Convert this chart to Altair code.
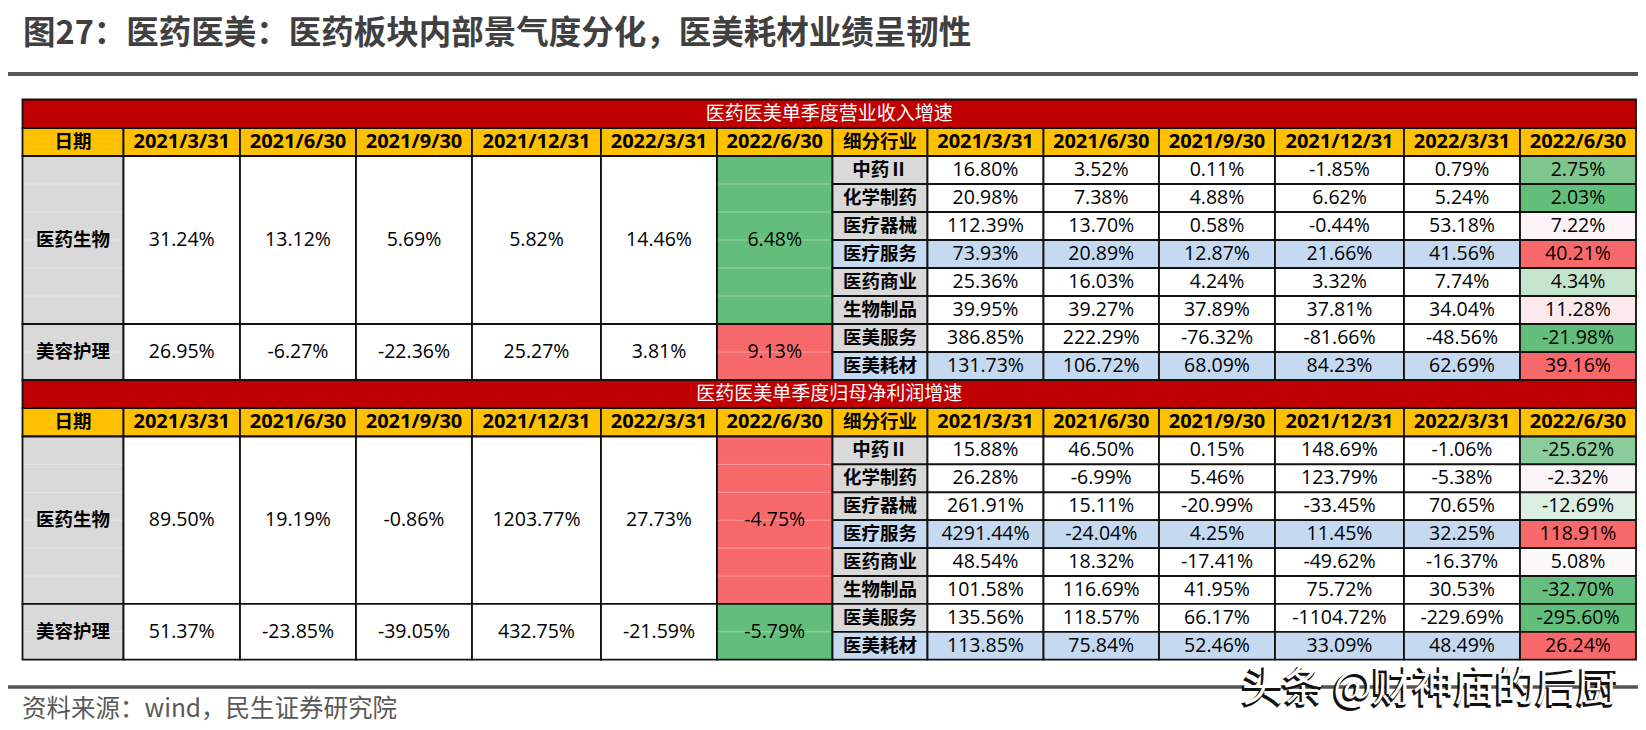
import altair as alt
import pandas as pd

# ---------------- data ----------------
dates = ["2021/3/31", "2021/6/30", "2021/9/30", "2021/12/31", "2022/3/31", "2022/6/30"]
sectors = ["医药生物", "美容护理"]
sub_industries = ["中药Ⅱ", "化学制药", "医疗器械", "医疗服务", "医药商业", "生物制品", "医美服务", "医美耗材"]
table_titles = ["医药医美单季度营业收入增速", "医药医美单季度归母净利润增速"]

rev_sector = [
    [31.24, 13.12, 5.69, 5.82, 14.46, 6.48],
    [26.95, -6.27, -22.36, 25.27, 3.81, 9.13],
]
rev_sub = [
    [16.80, 3.52, 0.11, -1.85, 0.79, 2.75],
    [20.98, 7.38, 4.88, 6.62, 5.24, 2.03],
    [112.39, 13.70, 0.58, -0.44, 53.18, 7.22],
    [73.93, 20.89, 12.87, 21.66, 41.56, 40.21],
    [25.36, 16.03, 4.24, 3.32, 7.74, 4.34],
    [39.95, 39.27, 37.89, 37.81, 34.04, 11.28],
    [386.85, 222.29, -76.32, -81.66, -48.56, -21.98],
    [131.73, 106.72, 68.09, 84.23, 62.69, 39.16],
]
profit_sector = [
    [89.50, 19.19, -0.86, 1203.77, 27.73, -4.75],
    [51.37, -23.85, -39.05, 432.75, -21.59, -5.79],
]
profit_sub = [
    [15.88, 46.50, 0.15, 148.69, -1.06, -25.62],
    [26.28, -6.99, 5.46, 123.79, -5.38, -2.32],
    [261.91, 15.11, -20.99, -33.45, 70.65, -12.69],
    [4291.44, -24.04, 4.25, 11.45, 32.25, 118.91],
    [48.54, 18.32, -17.41, -49.62, -16.37, 5.08],
    [101.58, 116.69, 41.95, 75.72, 30.53, -32.70],
    [135.56, 118.57, 66.17, -1104.72, -229.69, -295.60],
    [113.85, 75.84, 52.46, 33.09, 48.49, 26.24],
]
title_text = "图27：医药医美：医药板块内部景气度分化，医美耗材业绩呈韧性"
source_text = "资料来源：wind，民生证券研究院"
watermark_text = "头条 @财神庙的后厨"

# ---------------- styles ----------------
RED, YELLOW, GRAY, BLUE = "#C00000", "#FFC000", "#D9D9D9", "#C5D9F1"
GREEN, PINK, WHITE = "#63BE7B", "#F8696B", "#FFFFFF"
sector_last_fill = [[GREEN, PINK], [PINK, GREEN]]
sub_last_fill = [
    ["#7EC68E", "#63BE7B", "#FBF3F6", "#F8696B", "#C4E5CC", "#FCE9EC", "#63BE7B", "#F8696B"],
    ["#8ACD9A", "#FBF4F7", "#DCEFE2", "#F8696B", "#FCF9FB", "#66BF7E", "#63BE7B", "#F8696B"],
]
blue_rows = {3, 7}
sector_spans = [(0, 6), (6, 8)]

# ---------------- layout ----------------
COL_W = [101, 116.5, 116, 116, 129, 116, 115.5, 95, 116, 115.5, 116, 129, 116, 116]
ROW_H = [28.5, 28] + [28] * 8 + [28, 28.5] + [27.9] * 8
X_LEFT, Y_TOP = 22.5, 99.5
xe = [X_LEFT]
for w in COL_W:
    xe.append(xe[-1] + w)
ye = [Y_TOP]
for h in ROW_H:
    ye.append(ye[-1] + h)

rects, faint = [], []
t_hdr, t_date, t_label, t_value = [], [], [], []


def cell(c0, c1, r0, r1, fill):
    rects.append(dict(x0=xe[c0], x1=xe[c1], y0=ye[r0], y1=ye[r1], fill=fill))
    return (xe[c0] + xe[c1]) / 2, (ye[r0] + ye[r1]) / 2


tables = [(rev_sector, rev_sub), (profit_sector, profit_sub)]
for t, (sec_vals, sub_vals) in enumerate(tables):
    base = t * 10
    cx, cy = cell(0, 14, base, base + 1, RED)
    t_hdr.append(dict(x=cx, y=cy, text=table_titles[t]))
    for c in range(14):
        cx, cy = cell(c, c + 1, base + 1, base + 2, YELLOW)
        if c == 0:
            t_label.append(dict(x=cx, y=cy, text="日期"))
        elif c == 7:
            t_label.append(dict(x=cx, y=cy, text="细分行业"))
        else:
            t_date.append(dict(x=cx, y=cy, text=dates[c - 1 if c < 7 else c - 8]))
    for s, (a, b) in enumerate(sector_spans):
        r0, r1 = base + 2 + a, base + 2 + b
        cx, cy = cell(0, 1, r0, r1, GRAY)
        t_label.append(dict(x=cx, y=cy, text=sectors[s]))
        for j in range(6):
            fill = sector_last_fill[t][s] if j == 5 else WHITE
            cx, cy = cell(1 + j, 2 + j, r0, r1, fill)
            t_value.append(dict(x=cx, y=cy, text=f"{sec_vals[s][j]:.2f}%"))
        for r in range(r0 + 1, r1):
            for c in range(0, 7):
                faint.append(dict(x0=xe[c] + 1.2, x1=xe[c + 1] - 1.2, y=ye[r]))
    for i in range(8):
        r = base + 2 + i
        rowfill = BLUE if i in blue_rows else WHITE
        cx, cy = cell(7, 8, r, r + 1, BLUE if i in blue_rows else GRAY)
        t_label.append(dict(x=cx, y=cy, text=sub_industries[i]))
        for j in range(6):
            fill = sub_last_fill[t][i] if j == 5 else rowfill
            cx, cy = cell(8 + j, 9 + j, r, r + 1, fill)
            t_value.append(dict(x=cx, y=cy, text=f"{sub_vals[i][j]:.2f}%"))

# page-coordinate scales (chart origin sits at page (8, 8))
xs = alt.Scale(domain=[8, 1638], nice=False, zero=False)
ys = alt.Scale(domain=[8, 722], reverse=True, nice=False, zero=False)


def XY(xf="x", yf="y"):
    return dict(x=alt.X(f"{xf}:Q", scale=xs, axis=None), y=alt.Y(f"{yf}:Q", scale=ys, axis=None))


CJK = "Noto Sans CJK SC"
LAT = "Open Sans, Noto Sans CJK SC"

rect_layer = alt.Chart(pd.DataFrame(rects)).mark_rect(stroke="#111111", strokeWidth=1.8).encode(
    x=alt.X("x0:Q", scale=xs, axis=None), x2="x1:Q",
    y=alt.Y("y0:Q", scale=ys, axis=None), y2="y1:Q",
    fill=alt.Fill("fill:N", scale=None),
)
faint_layer = alt.Chart(pd.DataFrame(faint)).mark_rule(color="white", opacity=0.35, strokeWidth=1).encode(
    x=alt.X("x0:Q", scale=xs, axis=None), x2="x1:Q", y=alt.Y("y:Q", scale=ys, axis=None)
)


def text_layer(rows, **kw):
    return alt.Chart(pd.DataFrame(rows)).mark_text(baseline="middle", **kw).encode(**XY(), text="text:N")


hdr_layer = text_layer(t_hdr, font=CJK, fontSize=19, color="white", align="center")
date_layer = text_layer(t_date, font=LAT, fontSize=20, fontWeight="bold", color="black", align="center")
label_layer = text_layer(t_label, font=CJK, fontSize=18.5, fontWeight="bold", color="black", align="center")
value_layer = text_layer(t_value, font=LAT, fontSize=19.5, color="black", align="center")

lines = pd.DataFrame([
    dict(x0=4, x1=1646, y=74, w=4),
    dict(x0=3, x1=1646, y=687, w=3.5),
])
line_layer = alt.Chart(lines).mark_rule(color="#555555").encode(
    x=alt.X("x0:Q", scale=xs, axis=None), x2="x1:Q", y=alt.Y("y:Q", scale=ys, axis=None),
    strokeWidth=alt.StrokeWidth("w:Q", scale=None),
)

title_layer = text_layer([dict(x=23, y=34, text=title_text)], font=CJK, fontSize=32.5,
                         fontWeight="bold", color="#404040", align="left")
source_layer = text_layer([dict(x=22, y=710, text=source_text)], font=CJK, fontSize=24.5,
                          color="#595959", align="left")
wm_shadow = text_layer([dict(x=1430, y=689, text=watermark_text)], font=CJK, fontSize=41,
                       color="#111111", stroke="#111111", strokeWidth=2, align="center", dx=-1.5, dy=1.5)
wm_text = text_layer([dict(x=1430, y=689, text=watermark_text)], font=CJK, fontSize=41,
                     color="white", align="center")

chart = alt.layer(
    rect_layer, faint_layer, hdr_layer, date_layer, label_layer, value_layer,
    line_layer, title_layer, source_layer, wm_shadow, wm_text,
).properties(
    width=1630, height=714, padding=0, autosize=alt.AutoSizeParams(type="none"), background="white"
).configure_view(stroke=None)

chart.save("out.html", embed_options={"renderer": "svg", "actions": False})
